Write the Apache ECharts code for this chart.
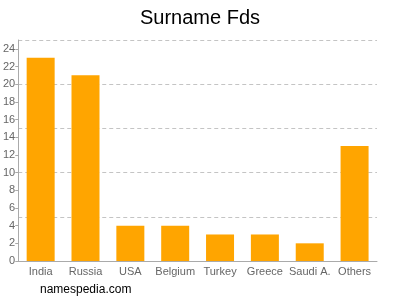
<!DOCTYPE html>
<html><head><meta charset="utf-8">
<script src="https://cdn.jsdelivr.net/npm/echarts@6/dist/echarts.min.js"></script>
<style>html,body{margin:0;padding:0;background:#fff}#c{width:400px;height:300px}</style>
</head><body><div id="c"></div>
<script>
const categories = ["India","Russia","USA","Belgium","Turkey","Greece","Saudi A.","Others"];
const values = [23,21,4,4,3,3,2,13];
const yMax = 25;
const labelInterval = 2;
const gridInterval = 5;

const chart = echarts.init(document.getElementById('c'), null, {renderer:'canvas'});
chart.setOption({
  animation:false,
  title:{text:'Surname Fds', left:'center', top:3, textStyle:{fontFamily:'Liberation Sans, Arial, sans-serif', fontSize:20, fontWeight:'normal', color:'#000'}},
  graphic:[{type:'text', left:40, top:284, style:{text:'namespedia.com', font:'12px Liberation Sans, Arial, sans-serif', fill:'#000'}}],
  grid:{left:17, right:23, top:40, bottom:39, containLabel:false},
  xAxis:{type:'category', data:categories,
    axisLine:{lineStyle:{color:'#aaa'}}, axisTick:{show:false},
    axisLabel:{color:'#666', fontFamily:'Liberation Sans, Arial, sans-serif', fontSize:11, margin:5, interval:0}},
  yAxis:[
    {type:'value', min:0, max:yMax, interval:labelInterval,
      axisLine:{show:true, lineStyle:{color:'#aaa'}}, axisTick:{show:true, length:3, lineStyle:{color:'#aaa'}},
      axisLabel:{color:'#666', fontFamily:'Liberation Sans, Arial, sans-serif', fontSize:11, margin:3, showMaxLabel:false},
      splitLine:{show:false}},
    {type:'value', min:0, max:yMax, interval:gridInterval, position:'left',
      axisLine:{show:false}, axisTick:{show:false}, axisLabel:{show:false},
      splitLine:{show:true, lineStyle:{color:'#c4c4c4', type:[4,3], width:1}}}
  ],
  series:[{type:'bar', data:values, barWidth:28, itemStyle:{color:'#ffa500'}, yAxisIndex:0}]
});
</script></body></html>
